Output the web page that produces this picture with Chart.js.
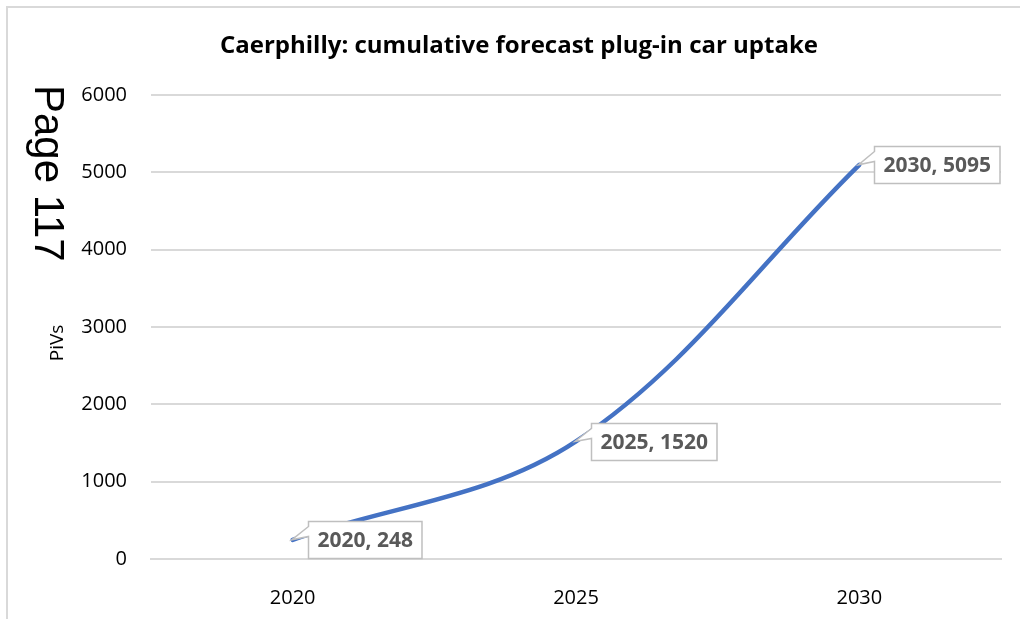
<!DOCTYPE html>
<html>
<head>
<meta charset="utf-8">
<script src="https://cdn.jsdelivr.net/npm/chart.js@4"></script>
<style>
    html, body { margin: 0; padding: 0; background: #fff; }
    #wrap { position: relative; width: 1020px; height: 619px; }
</style>
</head>
<body>
<div id="wrap"><canvas id="uptakeChart" width="1020" height="619"></canvas></div>
<script>
const years = ["2020", "2025", "2030"];
const pivs = [248, 1520, 5095];
const yTicks = [0, 1000, 2000, 3000, 4000, 5000, 6000];
const chartTitle = "Caerphilly: cumulative forecast plug-in car uptake";
const yTitle = "PiVs";
const pageMark = "Page 117";

// frame of the excel chart area, axis title and the page number stamped on the side
const framePlugin = {
    id: "frame",
    beforeDraw(chart) {
        const ctx = chart.ctx;
        ctx.save();
        ctx.fillStyle = "#fff";
        ctx.fillRect(0, 0, chart.width, chart.height);
        ctx.strokeStyle = "#D9D9D9";
        ctx.lineWidth = 2;
        ctx.beginPath();
        ctx.moveTo(7, chart.height);
        ctx.lineTo(7, 7);
        ctx.lineTo(chart.width, 7);
        ctx.stroke();
        ctx.restore();
    },
    afterDraw(chart) {
        const ctx = chart.ctx;
        ctx.save();
        ctx.fillStyle = "#000";
        ctx.translate(35, 85);
        ctx.rotate(Math.PI / 2);
        ctx.font = "42px 'Liberation Sans', Arial, sans-serif";
        ctx.textBaseline = "alphabetic";
        ctx.textAlign = "left";
        ctx.fillText(pageMark, 0, 0);
        ctx.restore();

        ctx.save();
        ctx.fillStyle = "#000";
        ctx.translate(58, 343);
        ctx.rotate(-Math.PI / 2);
        ctx.font = "19px 'Open Sans', sans-serif";
        ctx.textBaseline = "middle";
        ctx.textAlign = "center";
        ctx.fillText(yTitle, 0, 0);
        ctx.restore();
    }
};

// callout boxes next to each point
const calloutPlugin = {
    id: "callouts",
    afterDatasetsDraw(chart) {
        const ctx = chart.ctx;
        const meta = chart.getDatasetMeta(0);
        ctx.save();
        ctx.font = "bold 21px 'Open Sans', sans-serif";
        meta.data.forEach((pt, i) => {
            const text = years[i] + ", " + pivs[i];
            const w = ctx.measureText(text).width + 18;
            const h = 37;
            const bx = Math.round(pt.x + 15) + 0.5;
            const by = Math.round(pt.y - h / 2) + 0.5;
            ctx.beginPath();
            ctx.moveTo(bx, by);
            ctx.lineTo(bx + w, by);
            ctx.lineTo(bx + w, by + h);
            ctx.lineTo(bx, by + h);
            ctx.lineTo(bx, by + 15);
            ctx.lineTo(pt.x - 1, pt.y);
            ctx.lineTo(bx, by + 5);
            ctx.closePath();
            ctx.fillStyle = "#fff";
            ctx.fill();
            ctx.strokeStyle = "#BFBFBF";
            ctx.lineWidth = 1.5;
            ctx.stroke();
            ctx.fillStyle = "#595959";
            ctx.textAlign = "center";
            ctx.textBaseline = "middle";
            ctx.fillText(text, bx + w / 2, by + h / 2 + 1);
        });
        ctx.restore();
    }
};

const ctx = document.getElementById("uptakeChart");
new Chart(ctx, {
    type: "line",
    data: {
        labels: years,
        datasets: [{
            label: yTitle,
            data: pivs,
            borderColor: "#4472C4",
            borderWidth: 4.5,
            borderCapStyle: "round",
            tension: 0.35,
            pointRadius: 0,
            fill: false
        }]
    },
    options: {
        responsive: false,
        animation: false,
        layout: { padding: { left: 37, right: 19, top: 0, bottom: 0 } },
        plugins: {
            legend: { display: false },
            tooltip: { enabled: false },
            title: {
                display: true,
                text: chartTitle,
                color: "#000",
                font: { family: "'Open Sans', sans-serif", size: 24, weight: "bold" },
                padding: { top: 32, bottom: 34 }
            }
        },
        scales: {
            x: {
                offset: true,
                grid: { display: false },
                border: { display: true, color: "#D9D9D9", width: 2 },
                ticks: {
                    color: "#000",
                    padding: 19,
                    font: { family: "'Open Sans', sans-serif", size: 20 }
                },
                afterFit(scale) { scale.height = 60; }
            },
            y: {
                min: 0,
                max: 6000,
                afterBuildTicks(scale) { scale.ticks = yTicks.map(v => ({ value: v })); },
                grid: { color: "#D9D9D9", lineWidth: 2, drawTicks: false },
                border: { display: false },
                ticks: {
                    color: "#000",
                    padding: 24,
                    font: { family: "'Open Sans', sans-serif", size: 20 },
                    callback: v => String(v)
                },
                afterFit(scale) { scale.width = 114; }
            }
        }
    },
    plugins: [framePlugin, calloutPlugin]
});
</script>
</body>
</html>
